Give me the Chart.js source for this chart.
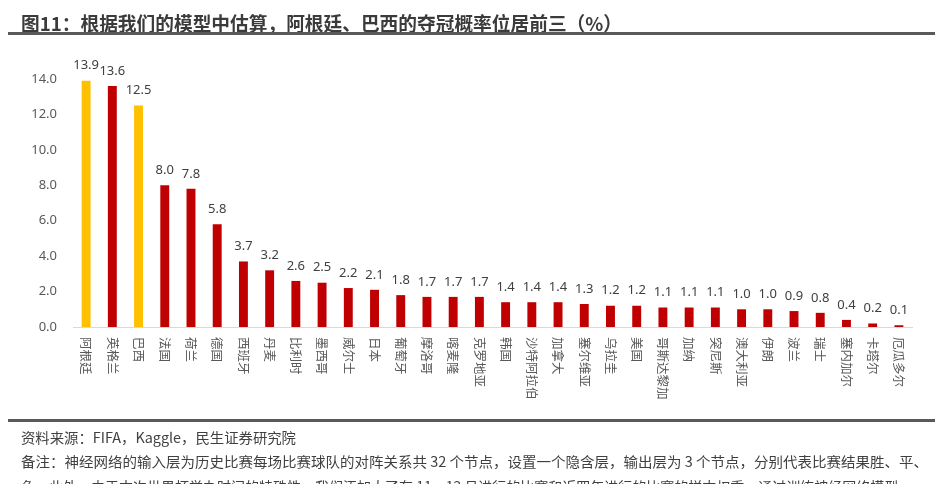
<!DOCTYPE html>
<html>
<head>
<meta charset="utf-8">
<script src="https://cdn.jsdelivr.net/npm/chart.js@4.4.1/dist/chart.umd.min.js"></script>
<style>
  html, body { margin: 0; padding: 0; background: #fff; }
  body { width: 946px; height: 484px; position: relative; overflow: hidden; font-family: "Noto Sans CJK SC", "Noto Sans", sans-serif; }
  #wrap { position: absolute; left: 0; top: 0; width: 946px; height: 484px; }
  .title { position: absolute; left: 21px; top: 9px; font-size: 19px; font-weight: bold; color: #3b3b3b; white-space: nowrap; transform-origin: left top; }
  .rule { position: absolute; left: 8px; width: 927px; height: 3px; background: #595959; }
  .foot { position: absolute; left: 21px; font-size: 14px; color: #404040; white-space: nowrap; transform-origin: left top; }
</style>
</head>
<body>
<div id="wrap"><canvas id="c" width="946" height="484"></canvas></div>
<div class="title" id="title">图11：根据我们的模型中估算，阿根廷、巴西的夺冠概率位居前三（%）</div>
<div class="rule" style="top:32px"></div>
<div class="rule" style="top:419px"></div>
<div class="foot" id="f1" style="top:427px">资料来源：FIFA，Kaggle，民生证券研究院</div>
<div class="foot" id="f2" style="top:451px">备注：神经网络的输入层为历史比赛每场比赛球队的对阵关系共 32 个节点，设置一个隐含层，输出层为 3 个节点，分别代表比赛结果胜、平、</div>
<div class="foot" id="f3" style="top:476px">负，此外，由于本次世界杯举办时间的特殊性，我们添加大了在 11、12 月进行的比赛和近四年进行的比赛的样本权重，通过训练神经网络模型</div>
<script>
const categories = ['阿根廷','英格兰','巴西','法国','荷兰','德国','西班牙','丹麦','比利时','墨西哥','威尔士','日本','葡萄牙','摩洛哥','喀麦隆','克罗地亚','韩国','沙特阿拉伯','加拿大','塞尔维亚','乌拉圭','美国','哥斯达黎加','加纳','突尼斯','澳大利亚','伊朗','波兰','瑞士','塞内加尔','卡塔尔','厄瓜多尔'];
const probability = [13.9,13.6,12.5,8.0,7.8,5.8,3.7,3.2,2.6,2.5,2.2,2.1,1.8,1.7,1.7,1.7,1.4,1.4,1.4,1.3,1.2,1.2,1.1,1.1,1.1,1.0,1.0,0.9,0.8,0.4,0.2,0.1];
const highlighted = ['阿根廷','巴西'];
const yTicks = [0,2,4,6,8,10,12,14];

const GOLD = '#FFC000', RED = '#C00000';
const NUM_FONT = '"Noto Sans", "Open Sans", sans-serif';
const CJK_FONT = '"Noto Sans CJK SC", sans-serif';

function fitWidth(id, w) {
  const el = document.getElementById(id);
  const cur = el.getBoundingClientRect().width;
  if (cur > 0) el.style.transform = 'scaleX(' + (w / cur) + ')';
}
fitWidth('title', 601);
fitWidth('f1', 275);
fitWidth('f2', 907);

const valueLabels = {
  id: 'valueLabels',
  afterDatasetsDraw(chart) {
    const ctx = chart.ctx;
    const meta = chart.getDatasetMeta(0);
    ctx.save();
    ctx.font = '13px ' + NUM_FONT;
    ctx.fillStyle = '#404040';
    ctx.textAlign = 'center';
    ctx.textBaseline = 'middle';
    meta.data.forEach((bar, i) => {
      ctx.fillText(probability[i].toFixed(1), bar.x, bar.y - 15);
    });
    ctx.restore();
  }
};

const verticalLabels = {
  id: 'verticalLabels',
  afterDraw(chart) {
    const ctx = chart.ctx;
    const xs = chart.scales.x;
    ctx.save();
    ctx.font = '12.5px ' + CJK_FONT;
    ctx.fillStyle = '#595959';
    ctx.textAlign = 'left';
    ctx.textBaseline = 'middle';
    categories.forEach((lab, i) => {
      const x = xs.getPixelForTick(i);
      ctx.save();
      ctx.translate(x, chart.chartArea.bottom + 10);
      ctx.rotate(Math.PI / 2);
      ctx.fillText(lab, 0, 0);
      ctx.restore();
    });
    ctx.restore();
  }
};

new Chart(document.getElementById('c'), {
  type: 'bar',
  data: {
    labels: categories,
    datasets: [{
      data: probability,
      backgroundColor: categories.map(c => highlighted.includes(c) ? GOLD : RED),
      borderWidth: 0,
      barPercentage: 0.34,
      categoryPercentage: 1.0
    }]
  },
  options: {
    responsive: false,
    animation: false,
    events: [],
    layout: { padding: { left: 0, right: 34, top: 79, bottom: 0 } },
    plugins: { legend: { display: false }, tooltip: { enabled: false }, title: { display: false } },
    scales: {
      x: {
        grid: { display: false, drawTicks: false },
        border: { display: true, color: '#D9D9D9', width: 1 },
        ticks: { display: false },
        afterFit(s) { s.height = 484 - 327; }
      },
      y: {
        min: 0, max: 14,
        afterBuildTicks(s) { s.ticks = yTicks.map(v => ({ value: v })); },
        grid: { display: false, drawTicks: false },
        border: { display: false },
        ticks: {
          padding: 16,
          color: '#595959',
          font: { family: NUM_FONT, size: 13 },
          callback: v => Number(v).toFixed(1)
        },
        afterFit(s) { s.width = 73; }
      }
    }
  },
  plugins: [valueLabels, verticalLabels]
});
</script>
</body>
</html>
